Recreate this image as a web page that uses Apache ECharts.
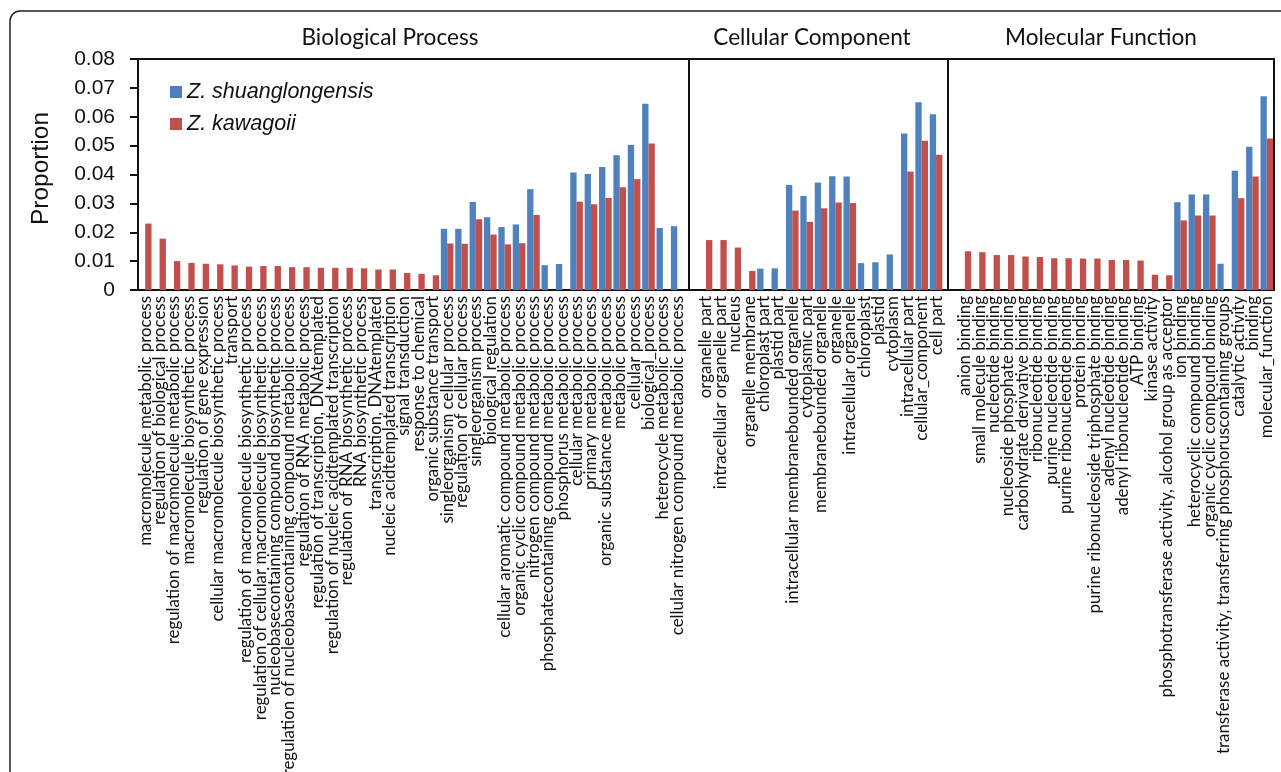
<!DOCTYPE html>
<html>
<head>
<meta charset="utf-8">
<script src="https://cdn.jsdelivr.net/npm/echarts@6/dist/echarts.min.js"></script>
<style>
html,body{margin:0;padding:0;background:#fff;}
#chart{width:1281px;height:772px;}
</style>
</head>
<body>
<div id="chart"></div>
<script>
// ---- Data ----
const seriesNames = ['Z. shuanglongensis', 'Z. kawagoii'];
const groupTitles = ['Biological Process', 'Cellular Component', 'Molecular Function'];
const yTicks = [0, 0.01, 0.02, 0.03, 0.04, 0.05, 0.06, 0.07, 0.08];

const bpCategories = [
  'macromolecule metabolic process', 'regulation of biological process',
  'regulation of macromolecule metabolic process', 'macromolecule biosynthetic process',
  'regulation of gene expression', 'cellular macromolecule biosynthetic process', 'transport',
  'regulation of macromolecule biosynthetic process',
  'regulation of cellular macromolecule biosynthetic process',
  'nucleobasecontaining compound biosynthetic process',
  'regulation of nucleobasecontaining compound metabolic process',
  'regulation of RNA metabolic process', 'regulation of transcription, DNAtemplated',
  'regulation of nucleic acidtemplated transcription', 'regulation of RNA biosynthetic process',
  'RNA biosynthetic process', 'transcription, DNAtemplated', 'nucleic acidtemplated transcription',
  'signal transduction', 'response to chemical', 'organic substance transport',
  'singleorganism cellular process', 'regulation of cellular process', 'singleorganism process',
  'biological regulation', 'cellular aromatic compound metabolic process',
  'organic cyclic compound metabolic process', 'nitrogen compound metabolic process',
  'phosphatecontaining compound metabolic process', 'phosphorus metabolic process',
  'cellular metabolic process', 'primary metabolic process', 'organic substance metabolic process',
  'metabolic process', 'cellular process', 'biological_process', 'heterocycle metabolic process',
  'cellular nitrogen compound metabolic process'
];
const bpShuang = [
  null, null, null, null, null, null, null, null, null, null, null, null, null, null, null,
  null, null, null, null, null, null,
  0.0212, 0.0212, 0.0305, 0.0252, 0.0218, 0.0227, 0.0349, 0.0086, 0.0090,
  0.0407, 0.0402, 0.0426, 0.0467, 0.0502, 0.0645, 0.0215, 0.0221
];
const bpKawagoii = [
  0.0230, 0.0178, 0.0100, 0.0094, 0.0091, 0.0089, 0.0085, 0.0081, 0.0083, 0.0083,
  0.0079, 0.0079, 0.0077, 0.0077, 0.0077, 0.0075, 0.0071, 0.0071, 0.0059, 0.0056, 0.0051,
  0.0161, 0.0160, 0.0245, 0.0192, 0.0158, 0.0162, 0.0260, null, null,
  0.0306, 0.0297, 0.0319, 0.0356, 0.0384, 0.0507, null, null
];

const ccCategories = [
  'organelle part', 'intracellular organelle part', 'nucleus', 'organelle membrane',
  'chloroplast part', 'plastid part', 'intracellular membranebounded organelle',
  'cytoplasmic part', 'membranebounded organelle', 'organelle', 'intracellular organelle',
  'chloroplast', 'plastid', 'cytoplasm', 'intracellular part', 'cellular_component', 'cell part'
];
const ccShuang = [
  null, null, null, null, 0.0074, 0.0075, 0.0364, 0.0326, 0.0372, 0.0394, 0.0393,
  0.0093, 0.0096, 0.0123, 0.0542, 0.0650, 0.0609
];
const ccKawagoii = [
  0.0173, 0.0173, 0.0147, 0.0066, null, null, 0.0275, 0.0236, 0.0283, 0.0303, 0.0301,
  null, null, null, 0.0410, 0.0517, 0.0468
];

const mfCategories = [
  'anion binding', 'small molecule binding', 'nucleotide binding', 'nucleoside phosphate binding',
  'carbohydrate derivative binding', 'ribonucleotide binding', 'purine nucleotide binding',
  'purine ribonucleotide binding', 'protein binding',
  'purine ribonucleoside triphosphate binding', 'adenyl nucleotide binding',
  'adenyl ribonucleotide binding', 'ATP binding', 'kinase activity',
  'phosphotransferase activity, alcohol group as acceptor', 'ion binding',
  'heterocyclic compound binding', 'organic cyclic compound binding',
  'transferase activity, transferring phosphoruscontaining groups', 'catalytic activity',
  'binding', 'molecular_function'
];
const mfShuang = [
  null, null, null, null, null, null, null, null, null, null, null, null, null, null, null,
  0.0304, 0.0331, 0.0331, 0.0091, 0.0413, 0.0496, 0.0671
];
const mfKawagoii = [
  0.0134, 0.0131, 0.0121, 0.0121, 0.0116, 0.0114, 0.0110, 0.0110, 0.0109, 0.0109,
  0.0104, 0.0104, 0.0102, 0.0053, 0.0051, 0.0241, 0.0258, 0.0258, null, 0.0318, 0.0393, 0.0525
];

// ---- Build combined axis with one blank category between groups ----
const categories = [...bpCategories, '', ...ccCategories, '', ...mfCategories];
const shuang = [...bpShuang, null, ...ccShuang, null, ...mfShuang];
const kawagoii = [...bpKawagoii, null, ...ccKawagoii, null, ...mfKawagoii];
const sep1 = bpCategories.length;
const sep2 = bpCategories.length + 1 + ccCategories.length;

const chart = echarts.init(document.getElementById('chart'), null, {renderer: 'canvas'});
const labelFont = 'Lato, "Open Sans", sans-serif';
const numFont = '"Liberation Sans", Arial, sans-serif';
const titleStyle = {fontFamily: labelFont, fontSize: 22.6, fontWeight: 'normal', color: '#111'};

chart.setOption({
  backgroundColor: '#fff',
  animation: false,
  title: [
    {text: groupTitles[0], left: 385, top: 21, textAlign: 'center', textStyle: titleStyle},
    {text: groupTitles[1], left: 807, top: 21, textAlign: 'center', textStyle: titleStyle},
    {text: groupTitles[2], left: 1096, top: 21, textAlign: 'center', textStyle: titleStyle}
  ],
  graphic: [{
    type: 'rect', z: -10, silent: true,
    shape: {x: 10, y: 11, width: 1320, height: 820, r: 10},
    style: {fill: 'none', stroke: '#222', lineWidth: 1.5}
  }],
  legend: {
    data: seriesNames, orient: 'vertical', left: 165, top: 76,
    itemWidth: 12, itemHeight: 12, itemGap: 10, icon: 'rect',
    textStyle: {fontFamily: numFont, fontSize: 21.5, fontStyle: 'italic', color: '#111'}
  },
  grid: {left: 138, top: 59, width: 1136, height: 231, show: true,
         outerBoundsMode: 'none', containLabel: false,
         borderColor: '#111', borderWidth: 2, backgroundColor: 'transparent'},
  xAxis: {
    type: 'category', data: categories,
    axisLine: {lineStyle: {color: '#111', width: 2}},
    axisTick: {show: false},
    axisLabel: {interval: 0, rotate: 90, margin: 6, color: '#111',
                fontFamily: labelFont, fontSize: 16.9}
  },
  yAxis: {
    type: 'value', min: yTicks[0], max: yTicks[yTicks.length - 1], interval: 0.01,
    name: 'Proportion', nameLocation: 'middle', nameGap: 84,
    nameTextStyle: {fontFamily: numFont, fontSize: 24.5, color: '#111', padding: [0, 0, 0, 12]},
    axisLine: {show: true, lineStyle: {color: '#111', width: 2}},
    axisTick: {show: true, inside: false, length: 8, lineStyle: {color: '#111', width: 2}},
    splitLine: {show: false},
    axisLabel: {margin: 23, color: '#111', fontFamily: numFont, fontSize: 21,
                formatter: v => (v === 0 ? '0' : v.toFixed(2))}
  },
  series: [
    {
      name: seriesNames[0], type: 'bar', data: shuang, barGap: '0%', barCategoryGap: '12%',
      itemStyle: {color: '#4F81BD'},
      markLine: {
        silent: true, symbol: 'none', label: {show: false},
        lineStyle: {color: '#111', width: 2, type: 'solid'},
        data: [{xAxis: sep1}, {xAxis: sep2}]
      }
    },
    {
      name: seriesNames[1], type: 'bar', data: kawagoii, barGap: '0%', barCategoryGap: '12%',
      itemStyle: {color: '#C0504D'}
    }
  ]
});
</script>
</body>
</html>
